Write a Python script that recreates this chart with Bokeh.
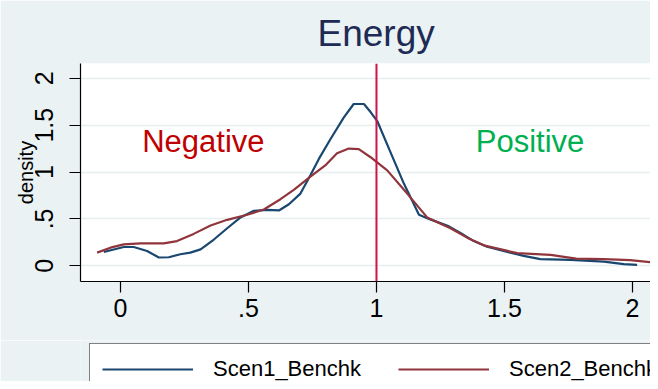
from bokeh.plotting import figure
from bokeh.models import Range1d, Span, Legend, LegendItem, FixedTicker, ColumnDataSource
from bokeh.layouts import column
from bokeh.core.properties import value
from bokeh.embed import file_html
from bokeh.resources import INLINE

# ---- data ----
scen1_x = [-0.065, 0.013, 0.052, 0.104, 0.150, 0.189, 0.234, 0.273, 0.313, 0.365, 0.417, 0.469,
           0.521, 0.573, 0.619, 0.658, 0.703, 0.742, 0.775, 0.820, 0.872, 0.911, 0.951, 0.977,
           1.003, 1.055, 1.107, 1.166, 1.205, 1.283, 1.328, 1.380, 1.432, 1.523, 1.575, 1.640,
           1.758, 1.888, 1.966, 2.018]
scen1_y = [0.147, 0.200, 0.200, 0.158, 0.088, 0.091, 0.123, 0.140, 0.175, 0.280, 0.400, 0.516,
           0.586, 0.596, 0.590, 0.656, 0.770, 0.965, 1.140, 1.350, 1.580, 1.726, 1.726, 1.640,
           1.544, 1.210, 0.877, 0.544, 0.500, 0.420, 0.350, 0.263, 0.203, 0.140, 0.105, 0.070,
           0.063, 0.045, 0.017, 0.010]

scen2_x = [-0.091, -0.039, 0.013, 0.078, 0.169, 0.221, 0.286, 0.352, 0.417, 0.495, 0.560, 0.625,
           0.677, 0.742, 0.800, 0.846, 0.892, 0.931, 0.977, 1.042, 1.120, 1.198, 1.289, 1.354,
           1.419, 1.550, 1.680, 1.780, 1.888, 1.990, 2.096]
scen2_y = [0.140, 0.193, 0.228, 0.239, 0.239, 0.263, 0.340, 0.430, 0.490, 0.544, 0.600, 0.710,
           0.810, 0.950, 1.070, 1.200, 1.250, 1.245, 1.158, 1.018, 0.770, 0.516, 0.400, 0.300,
           0.218, 0.134, 0.116, 0.077, 0.070, 0.060, 0.032]

series_names = ["Scen1_Benchk", "Scen2_Benchk"]
x_ticks = [0, 0.5, 1, 1.5, 2]
x_tick_labels = ["0", ".5", "1", "1.5", "2"]
y_ticks = [0, 0.5, 1, 1.5, 2]
y_tick_labels = ["0", ".5", "1", "1.5", "2"]
ref_line = [1.0]
annot_text = ["Negative", "Positive"]
annot_x = [0.324, 1.60]
annot_y = [1.33, 1.33]

FONT = "Liberation Sans"
BG = "#EAF2F3"
BLUE = "#1A476F"
RED = "#90353B"

p = figure(width=650, height=340,
           x_range=Range1d(-0.156, 2.0703), y_range=Range1d(-0.168, 2.158),
           output_backend="svg", toolbar_location=None,
           min_border_left=80, min_border_right=0, min_border_top=60, min_border_bottom=59,
           title="Energy")

p.background_fill_color = "white"
p.border_fill_color = BG
p.outline_line_color = None

p.title.text_font = FONT
p.title.text_font_size = "37px"
p.title.text_font_style = "normal"
p.title.text_color = "#1E2B55"
p.title.align = "left"
p.title.offset = 237
p.title.standoff = 20

# axes
for ax in (p.xaxis[0], p.yaxis[0]):
    ax.axis_line_color = "black"
    ax.axis_line_width = 1.2
    ax.major_tick_line_color = "black"
    ax.major_tick_line_width = 1.2
    ax.major_tick_out = 11
    ax.major_tick_in = 0
    ax.minor_tick_line_color = None
    ax.major_label_text_font = FONT
    ax.major_label_text_font_size = "25px"
    ax.major_label_text_color = "black"

p.xaxis[0].ticker = FixedTicker(ticks=x_ticks)
p.xaxis[0].major_label_overrides = {t: l for t, l in zip(x_ticks, x_tick_labels)}
p.xaxis[0].major_label_standoff = 6

p.yaxis[0].ticker = FixedTicker(ticks=y_ticks)
p.yaxis[0].major_label_overrides = {t: l for t, l in zip(y_ticks, y_tick_labels)}
p.yaxis[0].major_label_orientation = "vertical"
p.yaxis[0].major_label_standoff = 16
p.yaxis[0].axis_label = "density"
p.yaxis[0].axis_label_text_font = FONT
p.yaxis[0].axis_label_text_font_size = "20px"
p.yaxis[0].axis_label_text_font_style = "normal"
p.yaxis[0].axis_label_text_color = "black"
p.yaxis[0].axis_label_standoff = -4

p.xgrid.grid_line_color = None
p.ygrid.grid_line_color = "#E6EEF0"
p.ygrid.grid_line_width = 1.6

# curves
r1 = p.line(scen1_x, scen1_y, line_color=BLUE, line_width=2.2)
r2 = p.line(scen2_x, scen2_y, line_color=RED, line_width=2.2)

# reference line
for loc in ref_line:
    p.add_layout(Span(location=loc, dimension="height", line_color="#CC1448", line_width=2))

# annotations
src = ColumnDataSource(dict(x=annot_x, y=annot_y, t=annot_text, c=["#C00000", "#00B050"]))
p.text(x="x", y="y", text="t", source=src, text_color="c", text_align="center",
       text_baseline="alphabetic", text_font=value(FONT), text_font_size="31px")

# legend strip (separate canvas so the legend box is cut at the edges like the original)
p2 = figure(width=650, height=41, x_range=Range1d(100, 101), y_range=Range1d(100, 101),
            output_backend="svg", toolbar_location=None,
            min_border_left=0, min_border_right=0, min_border_top=0, min_border_bottom=0)
p2.axis.visible = False
p2.grid.visible = False
p2.outline_line_color = None
p2.background_fill_color = BG
p2.border_fill_color = BG
# same series, drawn outside this strip's visible range; used only for the legend keys
l1 = p2.line(scen1_x, scen1_y, line_color=BLUE, line_width=2.2)
l2 = p2.line(scen2_x, scen2_y, line_color=RED, line_width=2.2)

legend = Legend(items=[LegendItem(label=series_names[0], renderers=[l1]),
                       LegendItem(label=series_names[1], renderers=[l2])],
                orientation="horizontal", location=(9, -14))
legend.label_text_font = FONT
legend.label_text_font_size = "22px"
legend.label_text_color = "black"
legend.glyph_width = 91
legend.label_standoff = 20
legend.spacing = 37
legend.padding = 12
legend.margin = 0
legend.border_line_color = "black"
legend.border_line_width = 1
legend.background_fill_color = "white"
legend.background_fill_alpha = 1
p2.add_layout(legend, "center")

layout = column(p, p2, spacing=0)
open("out.html", "w").write(file_html(layout, INLINE))
